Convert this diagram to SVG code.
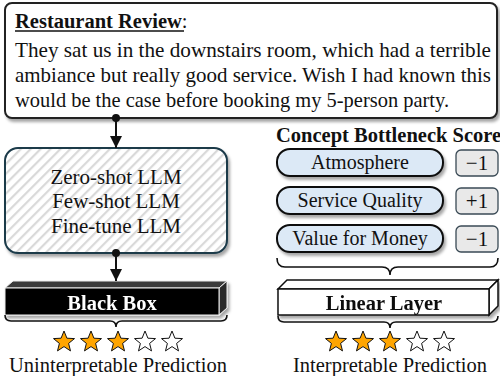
<svg xmlns="http://www.w3.org/2000/svg" width="500" height="376" viewBox="0 0 500 376">
<defs>
<style>
.t{font-family:"Liberation Serif","Times New Roman",serif;font-size:20px;fill:#111}
.b{font-weight:bold}
.c{text-anchor:middle}
.ln{stroke:#111;stroke-width:2;fill:none}
.br{stroke:#111;stroke-width:1.6;fill:none}
.pill{fill:#dce9f6;stroke:#111;stroke-width:2}
.score{fill:#e9e9e9;stroke:#3a4a55;stroke-width:1.3}
.star-on{fill:#ffa500;stroke:#111;stroke-width:1}
.star-off{fill:#fff;stroke:#111;stroke-width:1}
</style>
<filter id="sh" x="-10%" y="-10%" width="130%" height="140%">
<feDropShadow dx="2" dy="3" stdDeviation="1.5" flood-color="#000" flood-opacity="0.35"/>
</filter>
<pattern id="hatch" width="7" height="7" patternUnits="userSpaceOnUse" patternTransform="rotate(45)">
<rect width="7" height="7" fill="#fff"/>
<rect x="0" y="0" width="2.2" height="7" fill="#d9d9d9"/>
</pattern>
<marker id="ah" viewBox="0 0 10 10" refX="10" refY="5" markerWidth="13" markerHeight="12" markerUnits="userSpaceOnUse" orient="auto">
<path d="M0,0 L10,5 L0,10 z" fill="#111"/>
</marker>
<path id="star" d="M0,-11 L2.9,-3.8 L10.5,-3.4 L4.6,1.4 L6.5,8.9 L0,4.6 L-6.5,8.9 L-4.6,1.4 L-10.5,-3.4 L-2.9,-3.8 Z"/>
</defs>
<rect width="500" height="376" fill="#fff"/>

<g id="review">
<rect x="5" y="3" width="492" height="115" rx="7" fill="#fff" stroke="#222" stroke-width="2" filter="url(#sh)"/>
<text class="t b" x="15" y="28" style="font-size:20.5px">Restaurant Review<tspan font-weight="normal">:</tspan></text>
<line x1="15" y1="31" x2="184" y2="31" stroke="#111" stroke-width="1.3"/>
<text class="t" x="15" y="57" style="font-size:21px" textLength="476" lengthAdjust="spacingAndGlyphs">They sat us in the downstairs room, which had a terrible</text>
<text class="t" x="15" y="82" style="font-size:21px" textLength="476" lengthAdjust="spacingAndGlyphs">ambiance but really good service. Wish I had known this</text>
<text class="t" x="15" y="107" style="font-size:21px" textLength="434" lengthAdjust="spacingAndGlyphs">would be the case before booking my 5-person party.</text>
</g>

<g id="llm">
<rect x="5" y="148" width="222" height="105" rx="13" fill="url(#hatch)" stroke="#1b3a4a" stroke-width="2" filter="url(#sh)"/>
<text class="t c" x="116" y="184" style="font-size:21px">Zero-shot LLM</text>
<text class="t c" x="116" y="208" style="font-size:21px">Few-shot LLM</text>
<text class="t c" x="116" y="233" style="font-size:21px">Fine-tune LLM</text>
</g>

<g id="blackbox" filter="url(#sh)">
<polygon points="5,288 13,281 227,281 219,288" fill="#3a3a3a" stroke="#eee" stroke-width="1"/>
<polygon points="219,288 227,281 227,308 219,315" fill="#2a2a2a" stroke="#eee" stroke-width="1"/>
<rect x="5" y="288" width="214" height="27" fill="#000" stroke="#eee" stroke-width="1"/>
<text class="t b c" x="112" y="310" style="fill:#fff;font-size:20.5px">Black Box</text>
</g>

<g id="concepts">
<text class="t b" x="276" y="142" style="font-size:20.5px">Concept Bottleneck Score</text>
<g id="c-atm">
<rect class="pill" x="277" y="149" width="166" height="27" rx="13" filter="url(#sh)"/>
<text class="t c" x="360" y="169">Atmosphere</text>
</g>
<g id="c-svc">
<rect class="pill" x="277" y="187" width="166" height="27" rx="13" filter="url(#sh)"/>
<text class="t c" x="360" y="207">Service Quality</text>
</g>
<g id="c-val">
<rect class="pill" x="277" y="225" width="166" height="27" rx="13" filter="url(#sh)"/>
<text class="t c" x="360" y="245">Value for Money</text>
</g>
<g id="s-atm">
<rect class="score" x="456" y="150" width="42" height="26" rx="5"/>
<text class="t c" x="477" y="170" style="font-size:21px">−1</text>
</g>
<g id="s-svc">
<rect class="score" x="456" y="188" width="42" height="26" rx="5"/>
<text class="t c" x="477" y="208" style="font-size:21px">+1</text>
</g>
<g id="s-val">
<rect class="score" x="456" y="226" width="42" height="26" rx="5"/>
<text class="t c" x="477" y="246" style="font-size:21px">−1</text>
</g>
</g>

<g id="linear" filter="url(#sh)">
<polygon points="278,289 287,280 498,280 489,289" fill="#fff" stroke="#111" stroke-width="1.5"/>
<polygon points="489,289 498,280 498,306 489,315" fill="#fff" stroke="#111" stroke-width="1.5"/>
<rect x="278" y="289" width="211" height="26" fill="#fff" stroke="#111" stroke-width="1.5"/>
<text class="t b c" x="384" y="310" style="font-size:20.5px">Linear Layer</text>
</g>

<g id="pred-left">
<use href="#star" x="64" y="342" class="star-on"/>
<use href="#star" x="91" y="342" class="star-on"/>
<use href="#star" x="118" y="342" class="star-on"/>
<use href="#star" x="145" y="342" class="star-off"/>
<use href="#star" x="172" y="342" class="star-off"/>
<text class="t c" x="118" y="372" style="font-size:20.5px">Uninterpretable Prediction</text>
</g>

<g id="pred-right">
<use href="#star" x="336" y="342" class="star-on"/>
<use href="#star" x="363" y="342" class="star-on"/>
<use href="#star" x="390" y="342" class="star-on"/>
<use href="#star" x="417" y="342" class="star-off"/>
<use href="#star" x="444" y="342" class="star-off"/>
<text class="t c" x="390" y="372" style="font-size:20.5px">Interpretable Prediction</text>
</g>

<g id="connectors">
<circle cx="116" cy="118" r="4" fill="#111"/>
<line class="ln" x1="116" y1="118" x2="116" y2="148" marker-end="url(#ah)"/>
<circle cx="116" cy="253" r="4" fill="#111"/>
<line class="ln" x1="116" y1="253" x2="116" y2="281" marker-end="url(#ah)"/>
<path class="br" d="M5,315 Q5,321 11,321 L110,321 Q116,321 116,327 Q116,321 122,321 L221,321 Q227,321 227,315"/>
<path class="br" d="M277,258 Q277,267 285,267 L382,267 Q390,267 390,275 Q390,267 398,267 L490,267 Q498,267 498,258"/>
<path class="br" d="M278,316 Q278,322 284,322 L384,322 Q390,322 390,328 Q390,322 396,322 L492,322 Q498,322 498,316"/>
</g>
</svg>
